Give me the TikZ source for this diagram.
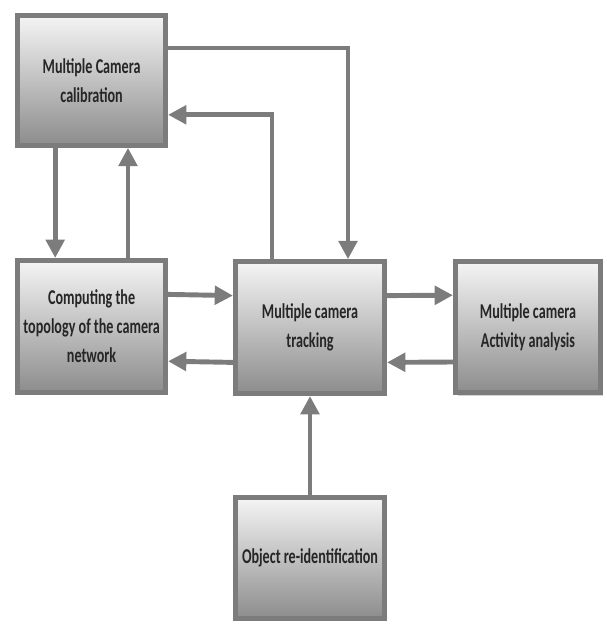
\documentclass[tikz,border=0pt]{standalone}
\usepackage{fontspec}
\setmainfont[FakeStretch=0.67]{Carlito}
\usepackage{tikz}
\usetikzlibrary{positioning, arrows.meta, calc, shadows}

\definecolor{linegray}{HTML}{7C7C7C}

\begin{document}
\begin{tikzpicture}[
 block/.style={draw=linegray, line width=3.5pt, rectangle, align=center,
   top color=black!4, bottom color=black!45, text=black!85,
   drop shadow={shadow xshift=2pt, shadow yshift=-2pt, opacity=0.35},
   font=\bfseries\fontsize{15}{20.5}\selectfont},
 arrow/.style={-{Triangle[length=13pt, width=13pt]}, line width=3.5pt, draw=linegray},
 ]
  \useasboundingbox (0,0) rectangle (15.15,-15.675);

  % Calibration block (top left)
  \node[block, minimum width=3.7cm, minimum height=3.25cm] at (2.29,-2.01) (calib) {Multiple Camera\\calibration};

  % Middle row
  \node[block, minimum width=3.7cm, minimum height=3.3cm] at (2.29,-8.16) (topo) {Computing the\\topology of the camera\\network};
  \node[block, minimum width=3.73cm, minimum height=3.3cm] at (7.75,-8.19) (track) {Multiple camera\\tracking};
  \node[block, minimum width=3.63cm, minimum height=3.28cm] at (13.2,-8.18) (activity) {Multiple camera\\Activity analysis};

  % Re-identification block (bottom)
  \node[block, minimum width=3.73cm, minimum height=3.03cm] at (7.75,-13.95) (reid) {Object re-identification};

  % Calibration <-> tracking
  \draw[arrow] ([yshift=0.81cm]calib.east) -| ([xshift=0.95cm]track.north);
  \draw[arrow] ([xshift=-0.95cm]track.north) |- ([yshift=-0.86cm]calib.east);

  % Calibration <-> topology
  \draw[arrow] ([xshift=-0.91cm]calib.south) -- ([xshift=-0.91cm]topo.north);
  \draw[arrow] ([xshift=0.91cm]topo.north) -- ([xshift=0.91cm]calib.south);

  % Topology <-> tracking
  \draw[arrow] ([yshift=0.8cm]topo.east) -- ([yshift=0.8cm]track.west);
  \draw[arrow] ([yshift=-0.87cm]track.west) -- ([yshift=-0.87cm]topo.east);

  % Tracking <-> activity
  \draw[arrow] ([yshift=0.8cm]track.east) -- ([yshift=0.8cm]activity.west);
  \draw[arrow] ([yshift=-0.87cm]activity.west) -- ([yshift=-0.87cm]track.east);

  % Re-identification -> tracking
  \draw[arrow] (reid.north) -- (track.south);

\end{tikzpicture}
\end{document}
